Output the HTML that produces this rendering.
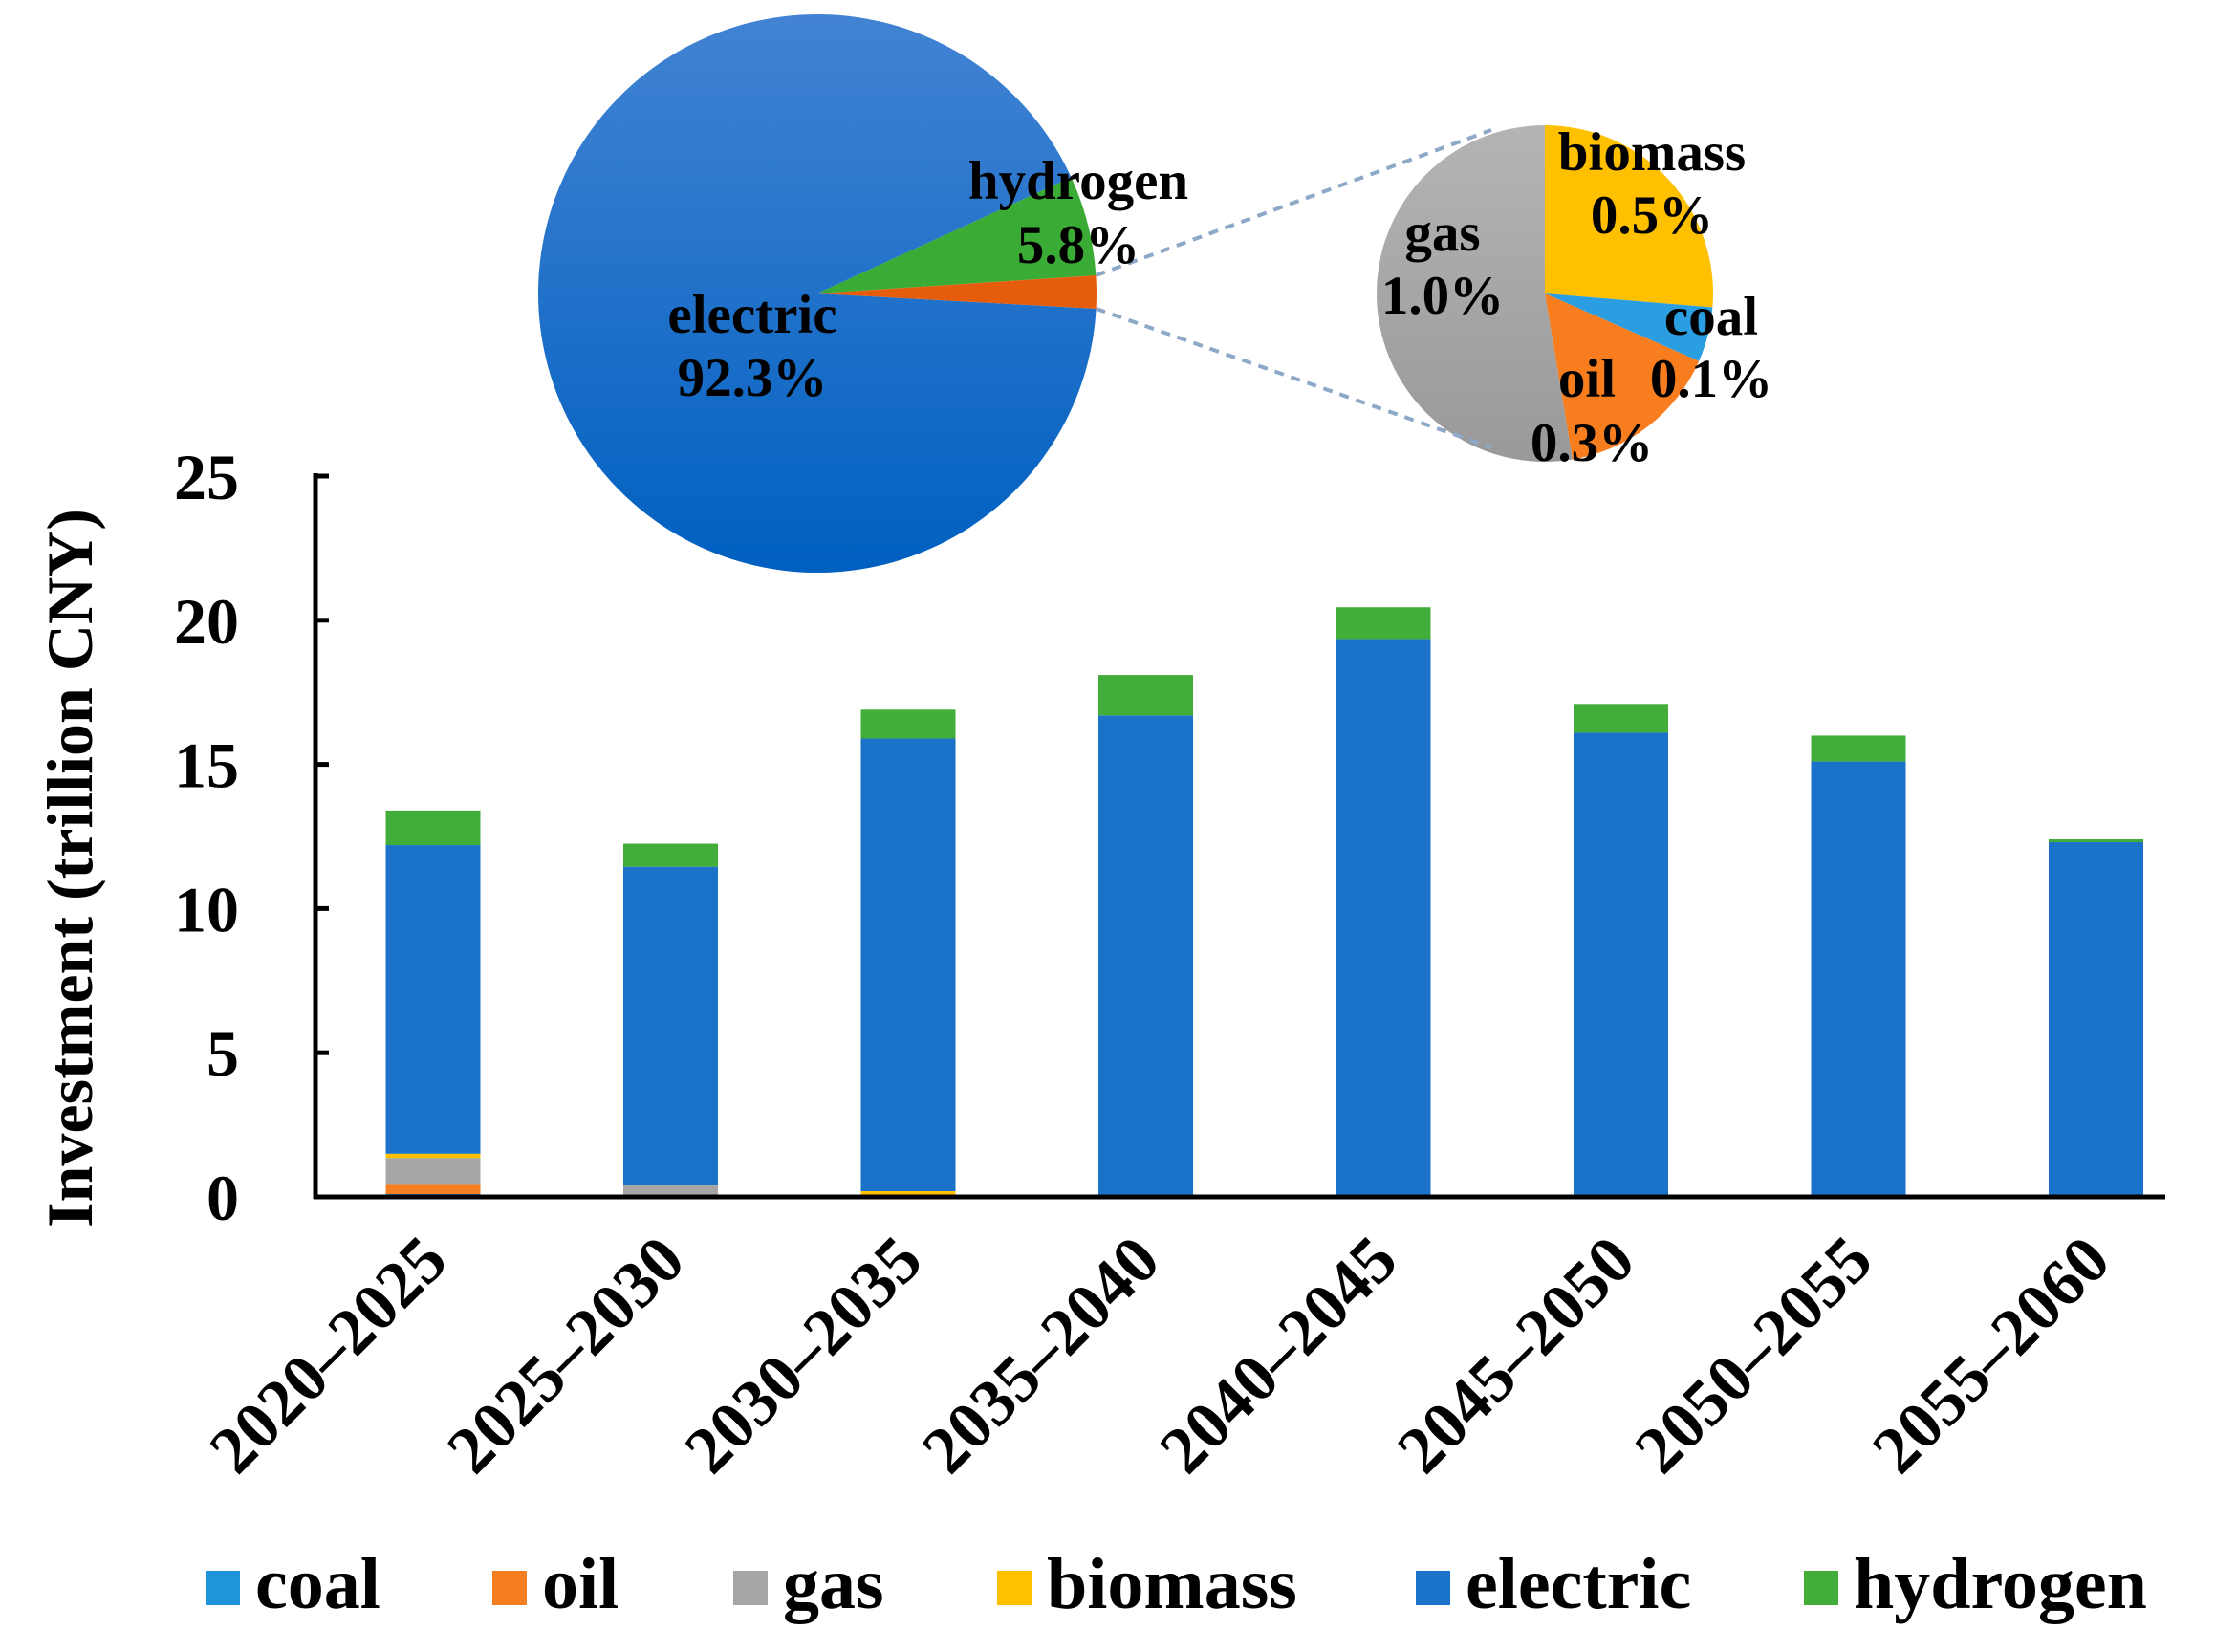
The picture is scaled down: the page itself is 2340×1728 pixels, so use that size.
<!DOCTYPE html>
<html><head><meta charset="utf-8"><style>
html,body{margin:0;padding:0;background:#fff}
svg{display:block}
text{font-family:"Liberation Serif",serif;font-weight:bold;fill:#000}
</style></head><body>
<svg id="chart" width="2340" height="1728" viewBox="0 0 2340 1728" xmlns="http://www.w3.org/2000/svg">
<defs>
<linearGradient id="bigpie" x1="0" y1="0" x2="0" y2="1"><stop offset="0" stop-color="#4283d3"/><stop offset="1" stop-color="#0060c0"/></linearGradient>
<linearGradient id="gasg" x1="0" y1="0" x2="0" y2="1"><stop offset="0" stop-color="#b4b4b4"/><stop offset="1" stop-color="#999"/></linearGradient>
</defs>
<g id="pies"></g>
<g id="bars"></g>
<g id="axes"></g>
<g id="legend"></g>
</svg>
<script>
const categories=["2020–2025","2025–2030","2030–2035","2035–2040","2040–2045","2045–2050","2050–2055","2055–2060"];
const seriesNames=["coal","oil","gas","biomass","electric","hydrogen"];
const coal=[0.1,0.05,0,0,0,0,0,0];
const oil=[0.35,0,0.05,0,0,0,0,0];
const gas=[0.9,0.35,0,0,0,0,0,0];
const biomass=[0.15,0,0.15,0,0,0,0,0];
const electric=[10.7,11.05,15.7,16.7,19.35,16.1,15.1,12.3];
const hydrogen=[1.2,0.8,1.0,1.4,1.1,1.0,0.9,0.1];
const yTicks=[0,5,10,15,20,25];
const mainPieLabels=["electric","hydrogen","other"];
const mainPieValues=[92.3,5.8,1.9];
const subPieLabels=["biomass","coal","oil","gas"];
const subPieValues=[0.5,0.1,0.3,1.0];

const colors={coal:"#1e95d8",oil:"#f57f20",gas:"#a6a6a6",biomass:"#ffc000",electric:"#1a72c9",hydrogen:"#43ad3a"};
const NS="http://www.w3.org/2000/svg";
function mk(tag,attrs,parent){const e=document.createElementNS(NS,tag);for(const k in attrs)e.setAttribute(k,attrs[k]);parent.appendChild(e);return e;}
const X0=330,X1=2265,Y0=1252,YTOP=498,YMAX=25;
const y=v=>Y0-(v/YMAX)*(Y0-YTOP);
const x0=453,step=248.5,bw=99;
const xc=i=>x0+i*step;
const bars=document.getElementById('bars'),axes=document.getElementById('axes'),legend=document.getElementById('legend'),pies=document.getElementById('pies');
const data={coal,oil,gas,biomass,electric,hydrogen};
categories.forEach((c,i)=>{
  let acc=0;
  seriesNames.forEach(s=>{
    const v=data[s][i];if(v<=0)return;
    const r=mk('rect',{x:xc(i)-bw/2,y:y(acc+v),width:bw,height:y(acc)-y(acc+v),fill:colors[s]},bars);
    
    
    acc+=v;
  });
  const t=mk('text',{x:0,y:0,'font-size':70,'text-anchor':'end',transform:`translate(${xc(i)+18},${Y0+70}) rotate(-45)`},axes);
  t.textContent=c;
  
  
});
const ya=mk('line',{x1:X0,y1:YTOP-3,x2:X0,y2:Y0+2,stroke:'#000','stroke-width':5},axes);

const xa=mk('line',{x1:X0-2,y1:Y0,x2:X1,y2:Y0,stroke:'#000','stroke-width':5},axes);

yTicks.forEach(v=>{
  mk('line',{x1:X0,y1:y(v),x2:X0+14,y2:y(v),stroke:'#000','stroke-width':5},axes);
  const t=mk('text',{x:250,y:y(v)+24,'font-size':68,'text-anchor':'end'},axes);
  t.textContent=v;
  
  
});
const yt=mk('text',{x:0,y:0,'font-size':68,'text-anchor':'middle',transform:'translate(96,908) rotate(-90)'},axes);
yt.textContent='Investment (trillion CNY)';


const legX=[215,515,767,1043,1481,1887];
seriesNames.forEach((s,i)=>{
  const g=mk('g',{},legend);
  
  mk('rect',{x:legX[i],y:1643,width:36,height:36,fill:colors[s]},g);
  const t=mk('text',{x:legX[i]+52,y:1682,'font-size':76},g);t.textContent=s;
});

function arcPath(cx,cy,r,a0,a1){
  const p=a=>[cx+r*Math.cos(a*Math.PI/180),cy+r*Math.sin(a*Math.PI/180)];
  const [sx,sy]=p(a0),[ex,ey]=p(a1);const large=(a1-a0)>180?1:0;
  return `M${cx},${cy}L${sx},${sy}A${r},${r} 0 ${large} 1 ${ex},${ey}Z`;
}
const mcx=855,mcy=307,mr=292;
const mainTot=mainPieValues.reduce((a,b)=>a+b,0);
const otherDeg=mainPieValues[2]/mainTot*360, hDeg=mainPieValues[1]/mainTot*360;
const oStart=-otherDeg/2-0.3, oEnd=oStart+otherDeg;
const hEnd=oStart, hStart=hEnd-hDeg;
const slices=[[oEnd,hStart+360,'url(#bigpie)','electric'],[hStart,hEnd,'#3aab35','hydrogen'],[oStart,oEnd,'#e55c0c','other']];
slices.forEach(s=>{const p=mk('path',{d:arcPath(mcx,mcy,mr,s[0],s[1]),fill:s[2]},pies);
  });
const scx=1616,scy=307,sr=176;
const subTot=subPieValues.reduce((a,b)=>a+b,0);
const subCols={biomass:'#ffc000',coal:'#2a9ee0',oil:'#f77d1e',gas:'url(#gasg)'};
let a=-90;
subPieLabels.forEach((l,i)=>{const d=subPieValues[i]/subTot*360;
  const p=mk('path',{d:arcPath(scx,scy,sr,a,a+d),fill:subCols[l]},pies);
  a+=d;});
const p1=[mcx+mr*Math.cos(oStart*Math.PI/180),mcy+mr*Math.sin(oStart*Math.PI/180)];
const p2=[mcx+mr*Math.cos(oEnd*Math.PI/180),mcy+mr*Math.sin(oEnd*Math.PI/180)];
[[p1,[1560,136]],[p2,[1560,468]]].forEach(([s,e])=>{const l=mk('line',{x1:s[0],y1:s[1],x2:e[0],y2:e[1],stroke:'#8ea8c8','stroke-width':4,'stroke-dasharray':'10,8'},pies);
  });
const labels=[["electric",787,348],["92.3%",787,414],["hydrogen",1128,208],["5.8%",1128,275],["gas",1509,262],["1.0%",1509,328],["biomass",1728,178],["0.5%",1728,244],["coal",1790,350],["0.1%",1790,415],["oil",1660,415],["0.3%",1665,482]];
labels.forEach(([s,x,yy])=>{const t=mk('text',{x:x,y:yy,'font-size':57,'text-anchor':'middle'},pies);t.textContent=s;
  });
</script>
</body></html>
